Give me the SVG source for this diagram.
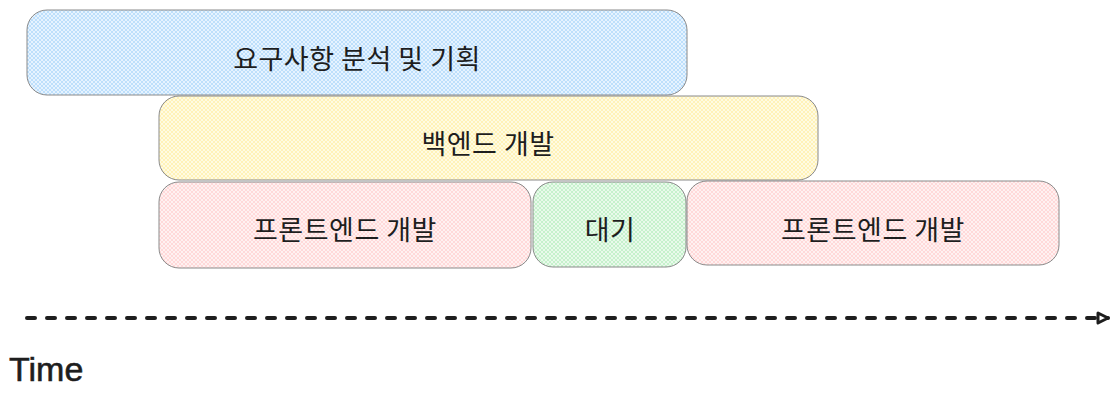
<svg xmlns="http://www.w3.org/2000/svg" width="1119" height="400" viewBox="0 0 1119 400">
<style>
.box{stroke:#8a8a8a;stroke-width:1}
.lbl{font-family:"Noto Sans CJK KR","Noto Sans",sans-serif;font-size:27px;letter-spacing:0.5px;fill:#1e1e1e;text-anchor:middle;dominant-baseline:central}
.time{font-family:"Liberation Sans","Noto Sans",sans-serif;font-size:34px;fill:#1e1e1e;stroke:#1e1e1e;stroke-width:0.6}
</style>
<defs>
<pattern id="pb" width="4" height="4" patternUnits="userSpaceOnUse"><rect width="4" height="4" fill="#e6f3ff"/><path d="M0,0L4,4M4,0L0,4" stroke="#b9dcfb" stroke-width="0.9"/></pattern>
<pattern id="py" width="4" height="4" patternUnits="userSpaceOnUse"><rect width="4" height="4" fill="#fffbe3"/><path d="M0,0L4,4M4,0L0,4" stroke="#fff0b3" stroke-width="0.9"/></pattern>
<pattern id="pr" width="4" height="4" patternUnits="userSpaceOnUse"><rect width="4" height="4" fill="#fff1f1"/><path d="M0,0L4,4M4,0L0,4" stroke="#ffd6d6" stroke-width="0.9"/></pattern>
<pattern id="pg" width="4" height="4" patternUnits="userSpaceOnUse"><rect width="4" height="4" fill="#e9faeb"/><path d="M0,0L4,4M4,0L0,4" stroke="#c2f0c8" stroke-width="0.9"/></pattern>
<marker id="ah" markerWidth="16" markerHeight="14" refX="12" refY="7" orient="auto" markerUnits="userSpaceOnUse"><path d="M2,2L12,7L2,12Z" fill="#fff" stroke="#1e1e1e" stroke-width="3" stroke-linejoin="round"/></marker>
</defs>
<g id="n1"><rect class="box" x="27" y="10" width="660" height="85" rx="20" fill="url(#pb)"/><text class="lbl" x="357" y="57">요구사항 분석 및 기획</text></g>
<g id="n2"><rect class="box" x="159" y="96" width="659" height="84" rx="20" fill="url(#py)"/><text class="lbl" x="488" y="142">백엔드 개발</text></g>
<g id="n3"><rect class="box" x="159" y="182" width="372" height="86" rx="20" fill="url(#pr)"/><text class="lbl" x="345" y="228">프론트엔드 개발</text></g>
<g id="n4"><rect class="box" x="533" y="182" width="153" height="85" rx="20" fill="url(#pg)"/><text class="lbl" x="610" y="228">대기</text></g>
<g id="n5"><rect class="box" x="687" y="181" width="372" height="84" rx="20" fill="url(#pr)"/><text class="lbl" x="873" y="228">프론트엔드 개발</text></g>
<g id="connectors"><path d="M27,318L1108,318" stroke="#1e1e1e" stroke-width="4" stroke-linecap="round" stroke-dasharray="8,12" fill="none" marker-end="url(#ah)"/></g>
<text class="time" x="9" y="381">Time</text>
</svg>
